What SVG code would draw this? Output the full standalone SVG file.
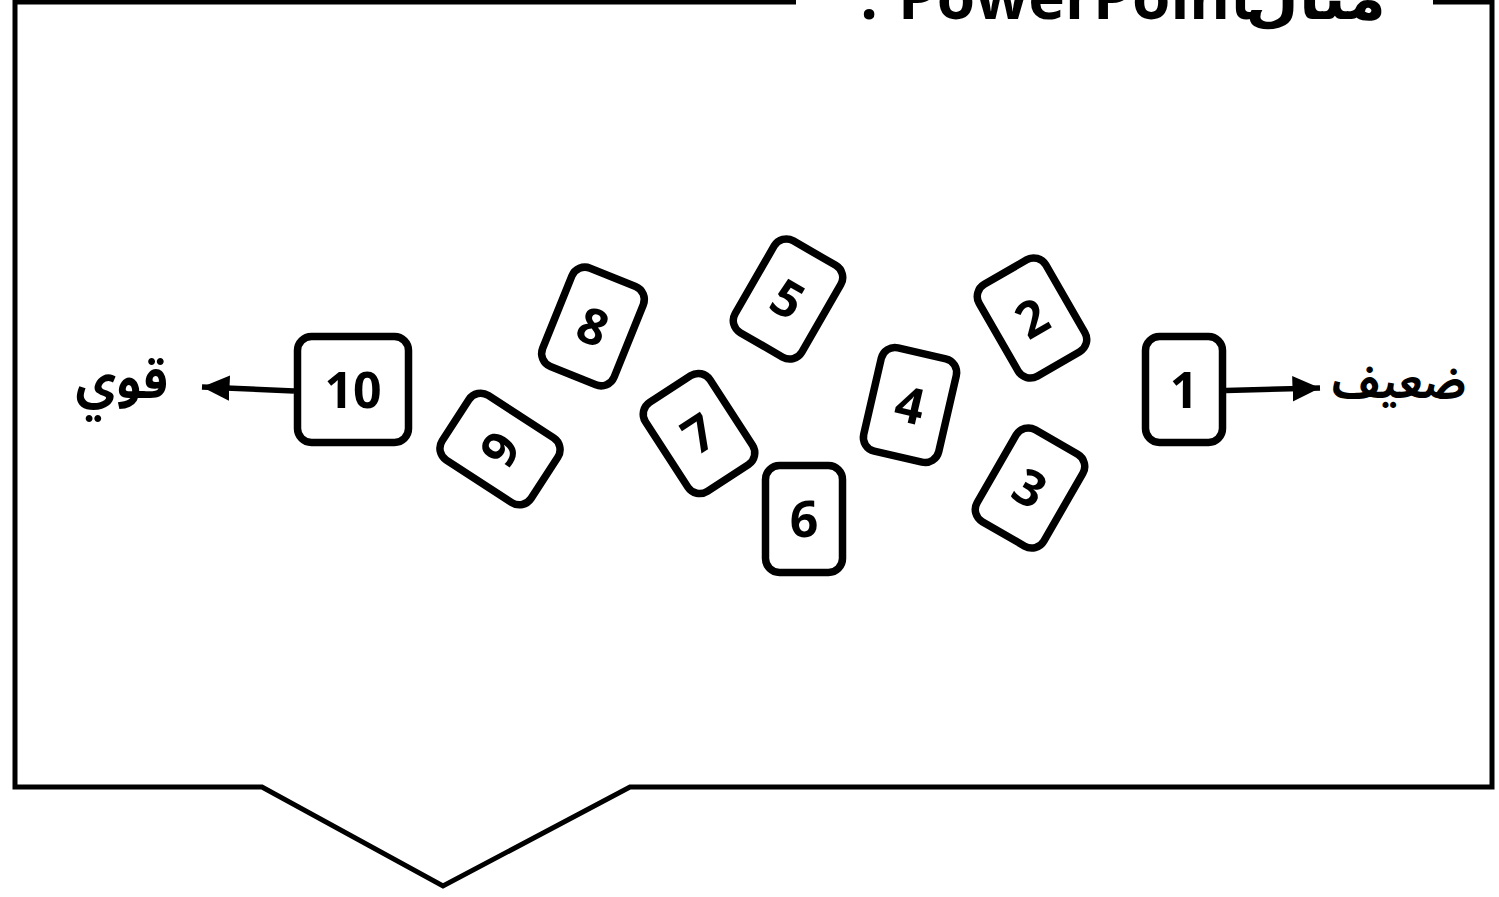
<svg xmlns="http://www.w3.org/2000/svg" width="1499" height="897" viewBox="0 0 1499 897">
<style>
.frame{fill:none;stroke:#000;stroke-width:5;stroke-linejoin:miter}
.card rect{fill:#fff;stroke:#000;stroke-width:7.5}
.card text{font-family:"Noto Sans","Open Sans","DejaVu Sans",sans-serif;font-weight:700;font-size:50px;text-anchor:middle;fill:#000}
.lbl{font-family:"Noto Sans Arabic","Open Sans","DejaVu Sans",sans-serif;font-weight:700;fill:#000}
.title{font-family:"Open Sans","Noto Sans","DejaVu Sans",sans-serif;font-weight:700;font-size:62px;fill:#000}
.conn{stroke:#000;stroke-width:5.5;fill:none}
</style>
<defs>
<marker id="ah" markerWidth="6" markerHeight="6" refX="5" refY="3" orient="auto" markerUnits="strokeWidth">
<path d="M0,0.7 L5,3 L0,5.3 Z" fill="#000"/>
</marker>
</defs>
<rect x="0" y="0" width="1499" height="897" fill="#fff"/>
<g id="frame">
<polyline class="frame" points="796,2 15,2 15,787 262,787 443,886 630,787 1492,787 1492,2 1433,2"/>
</g>
<g id="title">
<text class="title" x="1386" y="19" text-anchor="end">مثال</text>
<text class="title" x="1257" y="19" text-anchor="end">PowerPoint</text>
<text class="title" x="878" y="19" text-anchor="end">:</text>
</g>
<g id="connectors">
<line class="conn" x1="1226" y1="390.5" x2="1320" y2="388" marker-end="url(#ah)"/>
<line class="conn" x1="294" y1="391" x2="202" y2="387" marker-end="url(#ah)"/>
</g>
<g id="label-weak"><text class="lbl" x="1466" y="398" font-size="44" text-anchor="end">ضعيف</text></g>
<g id="label-strong"><text class="lbl" x="168" y="398" font-size="50" text-anchor="end">قوي</text></g>
<g id="card1" class="card" transform="translate(1184,389.5)"><rect x="-38.5" y="-53" width="77" height="106" rx="14"/><text x="0" y="18">1</text></g>
<g id="card2" class="card" transform="translate(1032,318) rotate(-30)"><rect x="-38.5" y="-53" width="77" height="106" rx="14"/><text x="0" y="18">2</text></g>
<g id="card3" class="card" transform="translate(1030,488) rotate(30)"><rect x="-38.5" y="-53" width="77" height="106" rx="14"/><text x="0" y="18">3</text></g>
<g id="card4" class="card" transform="translate(910,405) rotate(13)"><rect x="-38.5" y="-53" width="77" height="106" rx="14"/><text x="0" y="18">4</text></g>
<g id="card5" class="card" transform="translate(788,299) rotate(30)"><rect x="-38.5" y="-53" width="77" height="106" rx="14"/><text x="0" y="18">5</text></g>
<g id="card6" class="card" transform="translate(804,519)"><rect x="-38.5" y="-53.5" width="77" height="107" rx="14"/><text x="0" y="18">6</text></g>
<g id="card7" class="card" transform="translate(699,433.5) rotate(-33)"><rect x="-38.5" y="-53" width="77" height="106" rx="14"/><text x="0" y="18">7</text></g>
<g id="card8" class="card" transform="translate(593,326.5) rotate(22)"><rect x="-38.5" y="-53" width="77" height="106" rx="14"/><text x="0" y="18">8</text></g>
<g id="card9" class="card" transform="translate(500,449) rotate(-57)"><rect x="-38.5" y="-53" width="77" height="106" rx="14"/><text x="0" y="18">9</text></g>
<g id="card10" class="card" transform="translate(353,389.5)"><rect x="-55.5" y="-53" width="111" height="106" rx="14"/><text x="0" y="18">10</text></g>
</svg>
